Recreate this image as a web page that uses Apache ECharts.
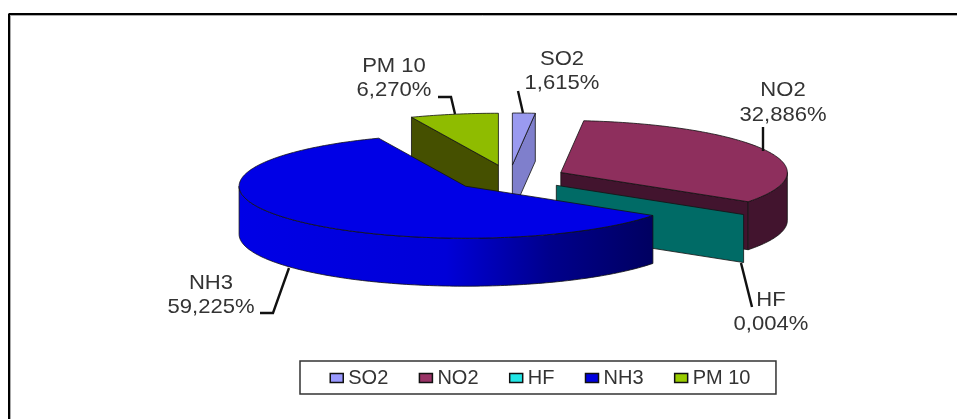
<!DOCTYPE html>
<html>
<head>
<meta charset="utf-8">
<style>html,body{margin:0;padding:0;background:#fff}#chart{width:957px;height:419px}</style>
<script src="https://cdn.jsdelivr.net/npm/echarts@6/dist/echarts.min.js"></script>
</head>
<body>
<div id="chart"></div>
<script>
// Emission shares in percent, clockwise from twelve o'clock.
const categories = ['SO2', 'NO2', 'HF', 'NH3', 'PM 10'];
const shares = [1.615, 32.886, 0.004, 59.225, 6.27];
const shareLabels = ['1,615%', '32,886%', '0,004%', '59,225%', '6,270%'];

// Colours per slice: top surface, walls, legend swatch.
const topColors = ['#9a9af0', '#8e2f5d', '#007a74', '#0000e6', '#8fbc00'];
const wallColors = ['#7f7fcc', '#42142e', '#006b66', null, '#455000'];
const swatchColors = ['#9999ff', '#993366', '#22e6e6', '#0000e0', '#99cc00'];

// Pie projection.
const pie = { cx: 509.5, cy: 178, rx: 226.5, ry: 52, depth: 48, explode: 0.25 };

// Label centres and leader polylines, by slice.
const labelCentres = [[562, 59, 83], [783, 90, 115], [771, 300, 324], [211, 283, 307], [394, 66, 90]];
const leaders = [
  [[518, 91], [523, 113]],
  [[763, 127], [763, 151]],
  [[741, 263], [752, 307]],
  [[260, 313], [273, 313], [289, 268]],
  [[438, 97], [451, 97], [455, 114]]
];

// Painter's order: rear slices first.
const drawOrder = [4, 0, 1, 2, 3];

const total = shares.reduce((a, b) => a + b, 0);
const spans = [];
shares.reduce((start, v) => {
  const end = start + (v / total) * 360;
  spans.push([start, end]);
  return end;
}, 0);

const rad = d => d * Math.PI / 180;

function sliceOrigin(mid) {
  return [
    pie.cx + pie.explode * pie.rx * Math.sin(rad(mid)),
    pie.cy - pie.explode * pie.ry * Math.cos(rad(mid))
  ];
}

function rim(o, deg, drop) {
  return [o[0] + pie.rx * Math.sin(rad(deg)), o[1] - pie.ry * Math.cos(rad(deg)) + drop];
}

function arcPoints(o, from, to, drop) {
  const pts = [];
  const n = Math.max(1, Math.ceil(Math.abs(to - from)));
  for (let i = 0; i <= n; i++) pts.push(rim(o, from + (to - from) * i / n, drop));
  return pts;
}

const edgeStyle = { stroke: '#111', lineWidth: 0.8, lineJoin: 'round' };

function poly(points, fill) {
  return { type: 'polygon', shape: { points }, style: Object.assign({ fill }, edgeStyle) };
}

function renderSlice(idx) {
  const [a0, a1] = spans[idx];
  const o = sliceOrigin((a0 + a1) / 2);
  const wall = wallColors[idx] || new echarts.graphic.LinearGradient(0, 0, 1, 0, [
    { offset: 0, color: '#0000e6' },
    { offset: 0.5, color: '#0000d8' },
    { offset: 0.75, color: '#00008c' },
    { offset: 1, color: '#000060' }
  ]);
  const parts = [];
  const drop = pie.depth;

  // Cut faces turned toward the viewer.
  if (Math.sin(rad(a0)) < -1e-6) {
    const r = rim(o, a0, 0);
    parts.push(poly([o, r, [r[0], r[1] + drop], [o[0], o[1] + drop]], wall));
  }
  if (Math.sin(rad(a1)) > 1e-6) {
    const r = rim(o, a1, 0);
    parts.push(poly([o, r, [r[0], r[1] + drop], [o[0], o[1] + drop]], wall));
  }

  // Outer wall on the front half of the ellipse.
  const w0 = Math.max(a0, 90), w1 = Math.min(a1, 270);
  if (w1 > w0 && a1 - a0 > 0.5) {
    parts.push(poly(arcPoints(o, w0, w1, 0).concat(arcPoints(o, w1, w0, drop)), wall));
  }

  // Top surface.
  if (a1 - a0 > 0.5) {
    parts.push(poly([o].concat(arcPoints(o, a0, a1, 0)), topColors[idx]));
  }

  // Leader line and two-line label.
  parts.push({
    type: 'polyline',
    shape: { points: leaders[idx] },
    style: { stroke: '#111', lineWidth: 2.4, fill: null }
  });
  const [lx, y1, y2] = labelCentres[idx];
  [[categories[idx], y1], [shareLabels[idx], y2]].forEach(([text, y]) => {
    parts.push({
      type: 'text',
      x: lx, y, scaleX: 1.05,
      style: {
        text, fill: '#333333',
        font: '21px "Liberation Sans", Arial, sans-serif',
        align: 'center', verticalAlign: 'middle'
      }
    });
  });
  return { type: 'group', children: parts };
}

const chart = echarts.init(document.getElementById('chart'), null, { renderer: 'canvas' });

chart.setOption({
  animation: false,
  backgroundColor: '#ffffff',
  legend: {
    left: 300,
    top: 361,
    orient: 'horizontal',
    icon: 'rect',
    itemWidth: 13,
    itemHeight: 9,
    itemGap: 30.4,
    padding: [7, 25.5, 6, 29.5],
    borderColor: '#333',
    borderWidth: 1.5,
    selectedMode: false,
    textStyle: { fontFamily: '"Liberation Sans", Arial, sans-serif', fontSize: 20, color: '#333' },
    itemStyle: { borderColor: '#111', borderWidth: 1.5 },
    data: categories.map((name, i) => ({
      name,
      itemStyle: { color: swatchColors[i], borderColor: '#111', borderWidth: 1.5 }
    }))
  },
  graphic: [
    // Chart-area frame: dark line with a grey inner shadow.
    { type: 'line', shape: { x1: 8.5, y1: 14, x2: 957, y2: 14 }, style: { stroke: '#000', lineWidth: 2 }, z: 1 },
    { type: 'line', shape: { x1: 8.5, y1: 15.5, x2: 957, y2: 15.5 }, style: { stroke: '#aaa', lineWidth: 1 }, z: 1 },
    { type: 'line', shape: { x1: 9, y1: 14, x2: 9, y2: 419 }, style: { stroke: '#000', lineWidth: 2 }, z: 1 },
    { type: 'line', shape: { x1: 10.5, y1: 15, x2: 10.5, y2: 419 }, style: { stroke: '#aaa', lineWidth: 1 }, z: 1 }
  ],
  series: drawOrder.map((idx, order) => ({
    type: 'custom',
    name: categories[idx],
    coordinateSystem: 'none',
    z: 2 + order,
    silent: true,
    itemStyle: { color: swatchColors[idx] },
    data: [{ name: categories[idx], value: shares[idx] }],
    renderItem: () => renderSlice(idx)
  }))
});
</script>
</body>
</html>
